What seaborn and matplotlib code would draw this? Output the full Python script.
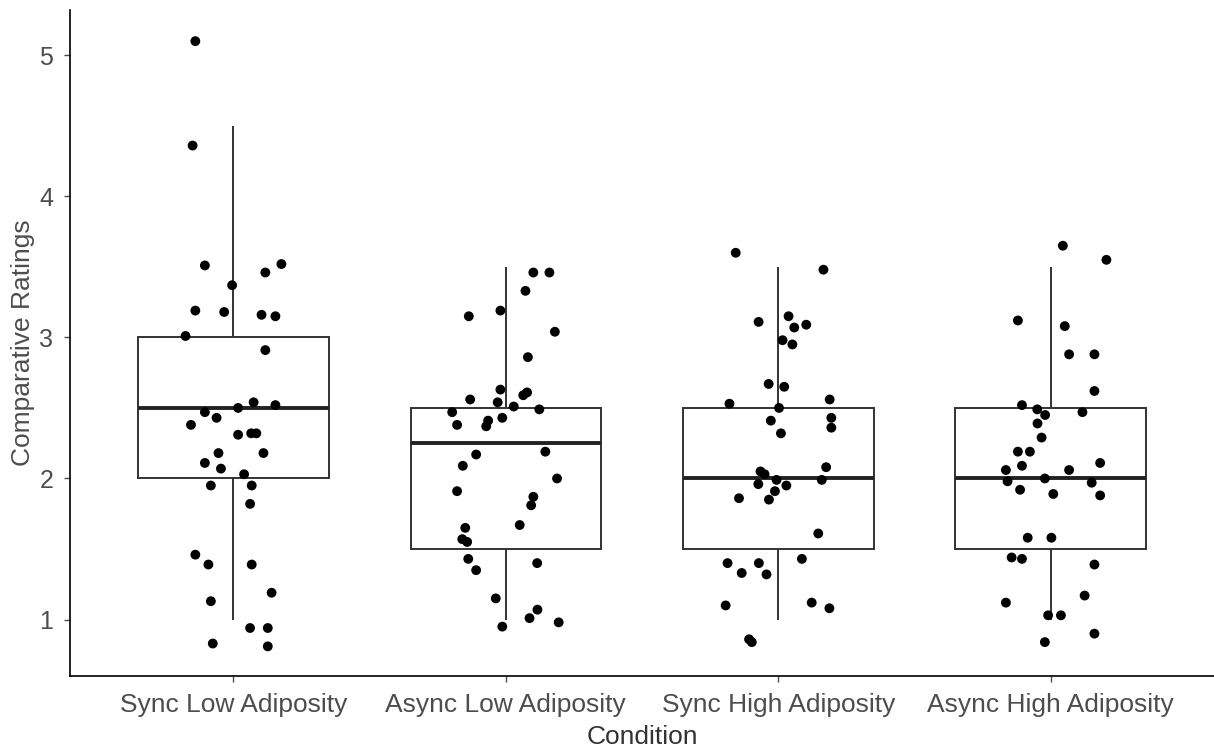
import numpy as np
import pandas as pd
import matplotlib
matplotlib.use('Agg')
import matplotlib.pyplot as plt
import seaborn as sns

##################################################################
#### data (jittered points: offset from group centre, rating)
##################################################################
conditions = ['Sync Low Adiposity', 'Async Low Adiposity', 'Sync High Adiposity', 'Async High Adiposity']

sync_low_y = [5.10, 4.36, 3.51, 3.52, 3.46, 3.37, 3.19, 3.18, 3.16, 3.15, 3.01, 2.91,
              2.54, 2.52, 2.50, 2.47, 2.43, 2.38, 2.31, 2.32, 2.32, 2.18, 2.18, 2.11,
              2.07, 2.03, 1.95, 1.95, 1.82, 1.46, 1.39, 1.39, 1.19, 1.13, 0.94, 0.94, 0.83, 0.81]
sync_low_dx = [-0.14, -0.15, -0.105, 0.176, 0.117, -0.005, -0.14, -0.034, 0.103, 0.154, -0.176, 0.117,
               0.074, 0.154, 0.017, -0.105, -0.062, -0.156, 0.017, 0.065, 0.084, -0.055, 0.11, -0.105,
               -0.046, 0.039, -0.083, 0.067, 0.061, -0.14, -0.092, 0.067, 0.14, -0.083, 0.061, 0.126, -0.076, 0.126]

async_low_y = [3.46, 3.46, 3.33, 3.19, 3.15, 3.04, 2.86, 2.63, 2.61, 2.59, 2.56, 2.54,
               2.51, 2.49, 2.47, 2.43, 2.41, 2.37, 2.38, 2.17, 2.19, 2.09, 2.00, 1.91,
               1.87, 1.81, 1.65, 1.67, 1.57, 1.55, 1.43, 1.40, 1.35, 1.15, 1.07, 1.01, 0.98, 0.95]
async_low_dx = [0.101, 0.16, 0.072, -0.02, -0.136, 0.18, 0.081, -0.02, 0.078, 0.064, -0.131, -0.03,
                0.029, 0.123, -0.197, -0.013, -0.065, -0.072, -0.179, -0.109, 0.145, -0.158, 0.188, -0.179,
                0.101, 0.093, -0.149, 0.051, -0.16, -0.142, -0.138, 0.115, -0.109, -0.037, 0.116, 0.087, 0.194, -0.013]

sync_high_y = [3.60, 3.48, 3.15, 3.11, 3.09, 3.07, 2.98, 2.95, 2.67, 2.65, 2.53, 2.56,
               2.50, 2.41, 2.43, 2.36, 2.32, 2.08, 2.05, 2.03, 1.96, 1.99, 1.99, 1.95,
               1.91, 1.86, 1.85, 1.61, 1.40, 1.40, 1.43, 1.33, 1.32, 1.10, 1.12, 1.08, 0.86, 0.84]
sync_high_dx = [-0.156, 0.166, 0.038, -0.072, 0.103, 0.059, 0.016, 0.052, -0.035, 0.022, -0.179, 0.189,
                0.003, -0.027, 0.195, 0.195, 0.01, 0.176, -0.065, -0.05, -0.073, -0.006, 0.16, 0.03,
                -0.012, -0.144, -0.034, 0.147, -0.186, -0.071, 0.087, -0.134, -0.043, -0.193, 0.123, 0.188, -0.107, -0.097]

async_high_y = [3.65, 3.55, 3.12, 3.08, 2.88, 2.88, 2.62, 2.52, 2.49, 2.45, 2.47, 2.39,
                2.29, 2.19, 2.19, 2.11, 2.09, 2.06, 2.06, 1.98, 2.00, 1.97, 1.92, 1.89,
                1.88, 1.58, 1.58, 1.44, 1.43, 1.39, 1.12, 1.17, 1.03, 1.03, 0.84, 0.90]
async_high_dx = [0.045, 0.205, -0.12, 0.052, 0.068, 0.161, 0.161, -0.105, -0.049, -0.02, 0.117, -0.048,
                 -0.033, -0.12, -0.076, 0.182, -0.105, -0.164, 0.068, -0.158, -0.021, 0.151, -0.112, 0.01,
                 0.182, -0.084, 0.003, -0.143, -0.105, 0.161, -0.164, 0.125, -0.009, 0.038, -0.021, 0.161]

groups_y = [sync_low_y, async_low_y, sync_high_y, async_high_y]
groups_dx = [sync_low_dx, async_low_dx, sync_high_dx, async_high_dx]

rows = []
for g, (ys, dxs) in enumerate(zip(groups_y, groups_dx)):
    for y, dx in zip(ys, dxs):
        rows.append({'Condition': conditions[g], 'pos': g, 'xj': g + dx, 'yj': y,
                     # ratings are on a half point scale, the points are jittered copies
                     'Rating': np.round(y * 2) / 2})
df = pd.DataFrame(rows)

##################################################################
#### figure
##################################################################
sns.set_style('ticks')
plt.rcParams['font.family'] = ['Liberation Sans', 'DejaVu Sans']

fig = plt.figure(figsize=[12.14, 7.49], dpi=100)
ax = fig.add_axes([0.0577, 0.0975, 0.9423, 0.889])

sns.boxplot(data=df, x='pos', y='Rating', native_scale=True, width=0.7, ax=ax,
            color='white', linecolor='#333333', linewidth=1.4, showcaps=False,
            showfliers=False, medianprops={'linewidth': 2.8, 'color': '#222222'})
sns.scatterplot(data=df, x='xj', y='yj', color='black', s=50, edgecolor='none',
                ax=ax, legend=False, zorder=3)

ax.set_xlim(-0.6, 3.6)
ax.set_ylim(0.6, 5.32)
ax.set_xticks(np.arange(4))
ax.set_xticklabels(conditions)
ax.set_yticks([1, 2, 3, 4, 5])

fz = 19
ax.tick_params(axis='both', labelsize=fz, colors='#4D4D4D', length=4, width=1)
ax.tick_params(axis='x', pad=8)
ax.tick_params(axis='y', labelsize=18, pad=8)
ax.set_xlabel('Condition', fontsize=fz, labelpad=6, color='#333333')
ax.set_ylabel('Comparative Ratings', fontsize=fz, labelpad=3, color='#4D4D4D')

sns.despine(ax=ax)
for sp in ['left', 'bottom']:
    ax.spines[sp].set_color('black')
    ax.spines[sp].set_linewidth(1.2)

plt.savefig('out.png', dpi=100)
